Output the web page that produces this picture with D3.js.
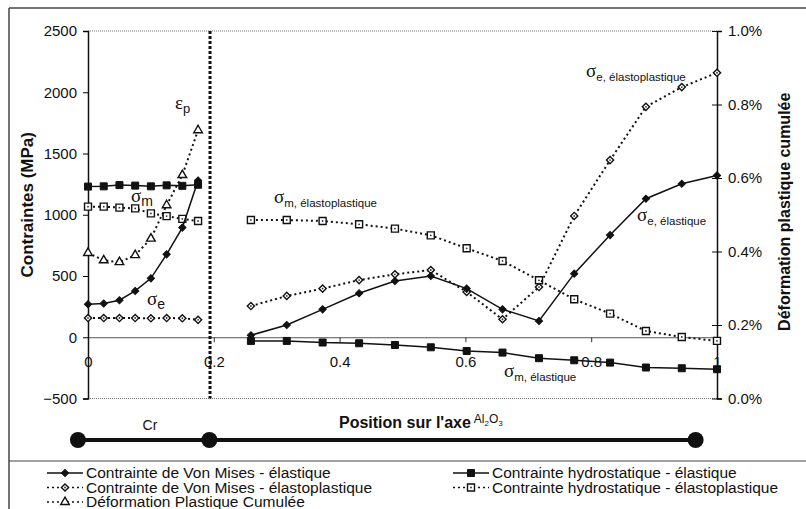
<!DOCTYPE html>
<html><head><meta charset="utf-8">
<script src="https://cdn.jsdelivr.net/npm/d3@7"></script>
<style>
body{margin:0;background:#fff}
svg{display:block}
text{font-family:"Liberation Sans",Arial,sans-serif;fill:#111}
</style>
</head><body>
<svg id="chart" width="806" height="509"></svg>
<script>
// ---------- data ----------
const xCr = [0, 0.025, 0.05, 0.075, 0.1, 0.125, 0.15, 0.175];
const xAl = [0.259, 0.316, 0.373, 0.431, 0.488, 0.545, 0.602, 0.659, 0.717, 0.773, 0.830, 0.887, 0.944, 1.0];

const vonMisesElCr = [269, 275, 302, 378, 481, 677, 895, 1280];
const vonMisesElAl = [16, 100, 228, 359, 459, 500, 397, 228, 133, 519, 834, 1131, 1253, 1321];
const vonMisesEpCr = [157, 157, 157, 157, 155, 157, 155, 142];
const vonMisesEpAl = [255, 337, 397, 467, 514, 549, 370, 147, 410, 990, 1446, 1881, 2042, 2159];
const hydroElCr = [1230, 1232, 1242, 1238, 1232, 1240, 1236, 1245];
const hydroElAl = [-30, -30, -43, -49, -63, -82, -112, -125, -171, -188, -207, -247, -253, -261];
const hydroEpCr = [1066, 1066, 1058, 1052, 1011, 989, 966, 949];
const hydroEpAl = [957, 957, 949, 922, 887, 832, 726, 623, 465, 310, 193, 51, 2, -30];
const plastStrainCr = [0.396, 0.376, 0.371, 0.390, 0.435, 0.526, 0.608, 0.730]; // percent

const interfaceX = 0.194;
const schematicNodes = [-0.016, 0.193, 0.966];

const leftTicks = [-500, 0, 500, 1000, 1500, 2000, 2500];
const rightTicks = [0, 0.2, 0.4, 0.6, 0.8, 1.0];
const rightTickLabels = ["0.0%", "0.2%", "0.4%", "0.6%", "0.8%", "1.0%"];
const xTicks = [0, 0.2, 0.4, 0.6, 0.8, 1];
const xTickLabels = ["0", "0.2", "0.4", "0.6", "0.8", "1"];

const legendItems = [
  {label: "Contrainte de Von Mises - élastique", dashed: false, marker: "diamond", filled: true},
  {label: "Contrainte hydrostatique -  élastique", dashed: false, marker: "square", filled: true},
  {label: "Contrainte de Von Mises - élastoplastique", dashed: true, marker: "diamond", filled: false},
  {label: "Contrainte hydrostatique - élastoplastique", dashed: true, marker: "square", filled: false},
  {label: "Déformation Plastique Cumulée", dashed: true, marker: "triangle", filled: false}
];

// ---------- setup ----------
const svg = d3.select("#chart");
const L = 88, R = 717, T = 31, B = 398.5;
const x = d3.scaleLinear().domain([0, 1]).range([L, R]);
const yL = d3.scaleLinear().domain([-500, 2500]).range([B, T]);
const yR = d3.scaleLinear().domain([0, 1.0]).range([B, T]);

// frame
svg.append("line").attr("x1", 9).attr("x2", 806).attr("y1", 8).attr("y2", 8).attr("stroke", "#444").attr("stroke-width", 1.5);
svg.append("line").attr("x1", 9).attr("x2", 9).attr("y1", 8).attr("y2", 509).attr("stroke", "#444").attr("stroke-width", 1.5);
svg.append("line").attr("x1", 9).attr("x2", 806).attr("y1", 461).attr("y2", 461).attr("stroke", "#444").attr("stroke-width", 1.2);

// plot area top / bottom dotted borders
[2500, -500].forEach(v => {
  svg.append("line").attr("x1", L).attr("x2", R).attr("y1", yL(v)).attr("y2", yL(v))
    .attr("stroke", "#777").attr("stroke-width", 1).attr("stroke-dasharray", "1,1");
});

// zero line + x axis
const xAxis = d3.axisBottom(x).tickValues(xTicks).tickFormat((d, i) => xTickLabels[i]).tickSize(5).tickPadding(14);
const gx = svg.append("g").attr("transform", `translate(0,${yL(0)})`).call(xAxis);
gx.select(".domain").attr("stroke", "#555").attr("stroke-width", 1);
gx.selectAll(".tick line").attr("stroke", "#333");
gx.selectAll("text").attr("font-size", 15).attr("font-family", "Liberation Sans, Arial").attr("fill", "#111");

// left axis
const gl = svg.append("g").attr("transform", `translate(${L},0)`)
  .call(d3.axisLeft(yL).tickValues(leftTicks).tickSize(5).tickPadding(6).tickFormat(d3.format("d")));
gl.select(".domain").attr("stroke", "#111").attr("stroke-width", 1.5);
gl.selectAll("text").attr("font-size", 15).attr("font-family", "Liberation Sans, Arial").attr("fill", "#111");

// right axis
const gr = svg.append("g").attr("transform", `translate(${R},0)`)
  .call(d3.axisRight(yR).tickValues(rightTicks).tickSize(5).tickPadding(6).tickFormat((d, i) => rightTickLabels[i]));
gr.select(".domain").attr("stroke", "#111").attr("stroke-width", 1.5);
gr.selectAll(".tick").append("line").attr("x1", -5).attr("x2", 0).attr("stroke", "#111");
gr.selectAll("text").attr("font-size", 15).attr("font-family", "Liberation Sans, Arial").attr("fill", "#111");

// axis titles
svg.append("text").attr("transform", `translate(33,${(T + B) / 2 - 10}) rotate(-90)`)
  .attr("text-anchor", "middle").attr("font-size", 17).attr("font-weight", "bold").text("Contraintes (MPa)");
svg.append("text").attr("transform", `translate(790,${(T + B) / 2 - 3}) rotate(-90)`)
  .attr("text-anchor", "middle").attr("font-size", 16).attr("font-weight", "bold").text("Déformation plastique cumulée");

// interface line
svg.append("line").attr("x1", x(interfaceX)).attr("x2", x(interfaceX)).attr("y1", T).attr("y2", B)
  .attr("stroke", "#111").attr("stroke-width", 3).attr("stroke-dasharray", "3,2");

// ---------- series ----------
function markerPath(type) {
  if (type === "diamond") return d3.symbol(d3.symbolSquare, 26)();
  if (type === "square") return d3.symbol(d3.symbolSquare, 49)();
  return d3.symbol(d3.symbolTriangle, 32)();
}
function drawMarkers(g, pts, type, filled) {
  g.selectAll(null).data(pts).enter().append("path")
    .attr("d", markerPath(type))
    .attr("transform", d => `translate(${d[0]},${d[1]})` + (type === "diamond" ? " rotate(45)" : ""))
    .attr("fill", filled ? "#111" : "#fff")
    .attr("stroke", "#111").attr("stroke-width", filled ? 1 : 1.4);
  if (!filled && type !== "triangle") {
    g.selectAll(null).data(pts).enter().append("circle")
      .attr("cx", d => d[0]).attr("cy", d => d[1]).attr("r", 0.9).attr("fill", "#333");
  }
}
function drawSeries(xs, ys, yScale, dashed, type, filled) {
  const pts = xs.map((v, i) => [x(v), yScale(ys[i])]);
  const g = svg.append("g");
  g.append("path").attr("d", d3.line()(pts)).attr("fill", "none").attr("stroke", "#111")
    .attr("stroke-width", dashed ? 2 : 1.5).attr("stroke-dasharray", dashed ? "2,3" : null);
  drawMarkers(g, pts, type, filled);
}

drawSeries(xCr, hydroEpCr, yL, true, "square", false);
drawSeries(xAl, hydroEpAl, yL, true, "square", false);
drawSeries(xCr, plastStrainCr, yR, true, "triangle", false);
drawSeries(xCr, vonMisesEpCr, yL, true, "diamond", false);
drawSeries(xAl, vonMisesEpAl, yL, true, "diamond", false);
drawSeries(xCr, hydroElCr, yL, false, "square", true);
drawSeries(xAl, hydroElAl, yL, false, "square", true);
drawSeries(xCr, vonMisesElCr, yL, false, "diamond", true);
drawSeries(xAl, vonMisesElAl, yL, false, "diamond", true);

// ---------- annotations ----------
function greek(px, py, sym, sub, subSize) {
  const t = svg.append("text").attr("x", px).attr("y", py);
  t.append("tspan").attr("font-family", "Liberation Serif, Times New Roman, serif").attr("font-size", 19).text(sym);
  t.append("tspan").attr("font-size", subSize).attr("dy", 4).text(sub);
}
greek(175, 109, "ε", "p", 13);
greek(131, 202, "σ", "m", 14);
greek(147, 305, "σ", "e", 14);
greek(274, 203, "σ", "m, élastoplastique", 11.5);
greek(586, 77, "σ", "e, élastoplastique", 11.5);
greek(637, 221, "σ", "e, élastique", 11.5);
greek(504, 377, "σ", "m, élastique", 11.5);

// ---------- bottom schematic ----------
svg.append("text").attr("x", 150).attr("y", 430).attr("text-anchor", "middle").attr("font-size", 14).text("Cr");
const pos = svg.append("text").attr("x", 339).attr("y", 428).attr("font-size", 16).attr("font-weight", "bold")
  .text("Position sur l'axe");
const posEnd = 339 + pos.node().getComputedTextLength();
const al = svg.append("text").attr("x", posEnd + 3).attr("y", 423).attr("font-size", 12);
al.append("tspan").text("Al");
al.append("tspan").attr("font-size", 8).attr("dy", 3).text("2");
al.append("tspan").attr("font-size", 12).attr("dy", -3).text("O");
al.append("tspan").attr("font-size", 8).attr("dy", 3).text("3");

const nodeXs = schematicNodes.map(v => x(v));
svg.append("line").attr("x1", nodeXs[0]).attr("x2", nodeXs[2]).attr("y1", 440).attr("y2", 440)
  .attr("stroke", "#111").attr("stroke-width", 4);
svg.selectAll(null).data(nodeXs).enter().append("circle")
  .attr("cx", d => d).attr("cy", 440).attr("r", 8).attr("fill", "#111");

// ---------- legend ----------
const legPos = [[47, 478], [453, 478], [47, 492.5], [453, 492.5], [47, 507]];
legendItems.forEach((it, i) => {
  const [lx, ly] = legPos[i];
  const g = svg.append("g");
  g.append("line").attr("x1", lx).attr("x2", lx + 36).attr("y1", ly - 5).attr("y2", ly - 5)
    .attr("stroke", "#111").attr("stroke-width", it.dashed ? 1.6 : 1.5).attr("stroke-dasharray", it.dashed ? "2,3" : null);
  drawMarkers(g, [[lx + 18, ly - 5]], it.marker, it.filled);
  g.append("text").attr("x", lx + 39).attr("y", ly).attr("font-size", 15.5).text(it.label);
});
</script>
</body></html>
